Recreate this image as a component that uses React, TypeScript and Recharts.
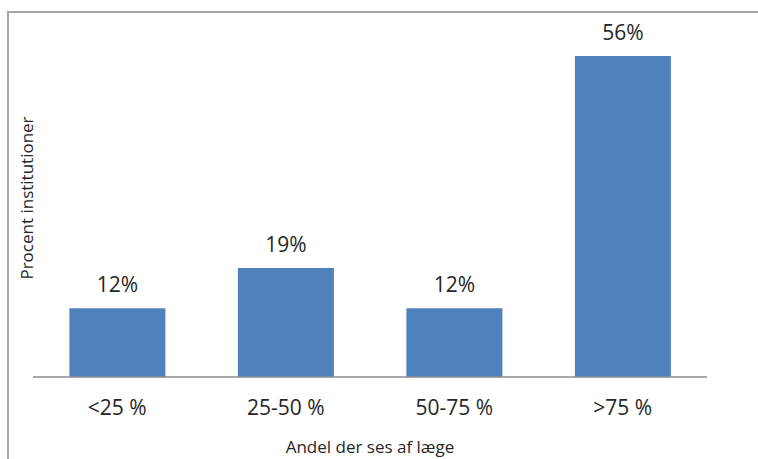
import React from 'react';
import { BarChart, Bar, XAxis, YAxis, LabelList } from 'recharts';

const categories = ['<25 %', '25-50 %', '50-75 %', '>75 %'];
const shares = [12, 19, 12, 56];

const data = categories.map((name, i) => ({ name, value: shares[i] }));

const FONT = '"Open Sans", sans-serif';
const TEXT = '#262626';

export default function App() {
  return (
    <div style={{ position: 'absolute', left: 0, top: 0, width: 758, height: 459, overflow: 'hidden', background: '#fff' }}>
      <div
        style={{
          position: 'absolute',
          left: 7,
          top: 11,
          width: 800,
          height: 500,
          border: '2px solid #a6a6a6',
          boxSizing: 'border-box',
        }}
      />
      <BarChart
        width={758}
        height={459}
        data={data}
        margin={{ top: 33, right: 51, bottom: 0, left: 0 }}
        barCategoryGap="21.6%"
        style={{ position: 'absolute', left: 0, top: 0 }}
      >
        <XAxis
          dataKey="name"
          height={82}
          tickLine={false}
          axisLine={{ stroke: '#8c8c8c', strokeWidth: 1.5 }}
          tick={{ fill: TEXT, fontSize: 21, fontFamily: FONT }}
          tickMargin={17}
          label={{
            value: 'Andel der ses af læge',
            position: 'insideBottom',
            offset: 6,
            fill: TEXT,
            fontSize: 17,
            fontFamily: FONT,
          }}
        />
        <YAxis
          domain={[0, 60]}
          width={33}
          tick={false}
          axisLine={false}
          tickLine={false}
          label={{
            content: () => (
              <text
                x={26}
                y={198}
                transform="rotate(-90, 26, 198)"
                textAnchor="middle"
                dominantBaseline="central"
                fill={TEXT}
                fontSize={17}
                fontFamily={FONT}
              >
                Procent institutioner
              </text>
            ),
          }}
        />
        <Bar dataKey="value" fill="#4f81bd" isAnimationActive={false}>
          <LabelList
            dataKey="value"
            position="top"
            offset={16}
            formatter={(v: number) => `${v}%`}
            fill={TEXT}
            fontSize={21}
            fontFamily={FONT}
          />
        </Bar>
      </BarChart>
    </div>
  );
}
